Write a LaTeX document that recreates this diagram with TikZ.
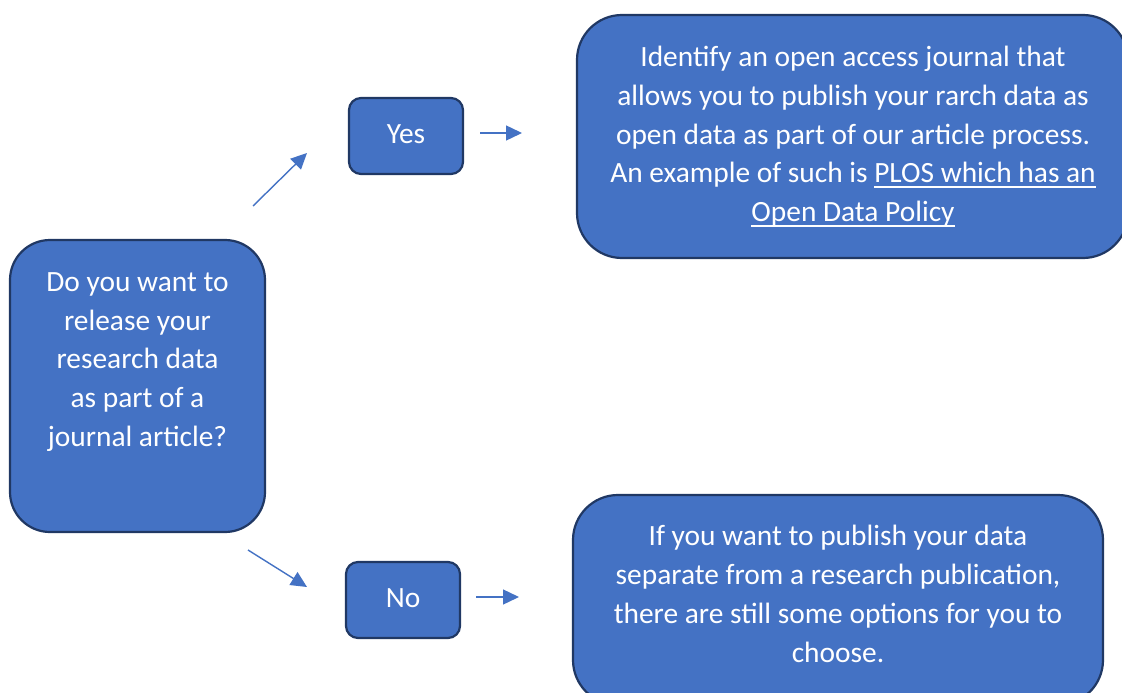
\documentclass[tikz,border=0pt]{standalone}
\usepackage{fontspec}
\setmainfont{Carlito}
\usetikzlibrary{arrows.meta}
\definecolor{boxfill}{HTML}{4472C4}
\definecolor{boxline}{HTML}{203864}
\definecolor{arrowcol}{HTML}{4472C4}
% underlined link text with a fixed rule depth
\newsavebox{\lnkbox}
\newcommand\lnk[1]{\sbox{\lnkbox}{#1}\rlap{\rule[-5pt]{\wd\lnkbox}{1.6pt}}\usebox{\lnkbox}}
\tikzset{
  box/.style={draw=boxline, line width=2.2pt, fill=boxfill, inner sep=0pt},
  txt/.style={text=white, align=center, font=\fontsize{29.4}{38.75}\selectfont, inner sep=0pt},
  flow/.style={draw=arrowcol, line width=1.4pt, -{Triangle[length=16pt,width=15pt]}}
}
\begin{document}
\begin{tikzpicture}[x=1pt,y=-1pt]
\useasboundingbox (0,0) rectangle (1122,693);
\clip (0,0) rectangle (1122,693);
\fill[white] (0,0) rectangle (1122,693);

% question
\node[box, rounded corners=40pt, minimum width=255pt, minimum height=292pt] (q) at (137.5,386) {};
\node[txt] (qt) at (137.5,362) {Do you want to\\release your\\research data\\as part of a\\journal article?};

% answers
\node[box, rounded corners=12pt, minimum width=114pt, minimum height=76pt] (yes) at (406,136) {};
\node[txt] (yest) at (406,134) {Yes};
\node[box, rounded corners=12pt, minimum width=114pt, minimum height=76pt] (no) at (403,600) {};
\node[txt] (not) at (403,598) {No};

% outcomes
\node[box, rounded corners=45pt, minimum width=551pt, minimum height=243pt] (ra) at (852.5,136.5) {};
\node[txt] (rat) at (853,136.5) {Identify an open access journal that\\allows you to publish your rarch data as\\open data as part of our article process.\\An example of such is \lnk{PLOS which has an}\\\lnk{Open Data Policy}};

\node[box, rounded corners=45pt, minimum width=530pt, minimum height=210pt] (rb) at (838,600) {};
\node[txt] (rbt) at (838,594) {If you want to publish your data\\separate from a research publication,\\there are still some options for you to\\choose.};

% connectors
\coordinate (a1s) at (253,206); \coordinate (a1e) at (307,153);
\coordinate (a2s) at (480,133); \coordinate (a2e) at (522,133);
\coordinate (a3s) at (248,550); \coordinate (a3e) at (307,587);
\coordinate (a4s) at (476,597); \coordinate (a4e) at (519,597);
\draw[flow] (a1s) -- (a1e);
\draw[flow] (a2s) -- (a2e);
\draw[flow] (a3s) -- (a3e);
\draw[flow] (a4s) -- (a4e);
\end{tikzpicture}
\end{document}
